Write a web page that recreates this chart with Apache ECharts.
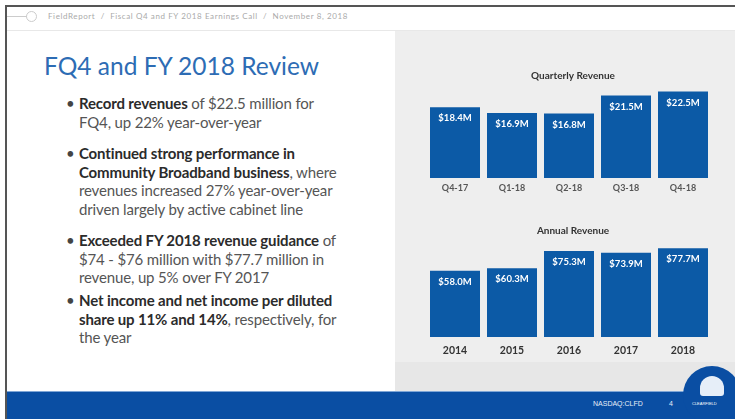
<!DOCTYPE html>
<html>
<head>
<meta charset="utf-8">
<script src="https://cdn.jsdelivr.net/npm/echarts@6/dist/echarts.min.js"></script>
<style>
    body{ margin: 0; width: 735px; height: 419px; overflow: hidden; background: #fff; font-family: Lato, "Open Sans", sans-serif; position: relative;}
    .frame-top{ position: absolute; left: 5px; top: 5px; width: 730px; height: 2px; background: #555;}
    .frame-left{ position: absolute; left: 5px; top: 5px; width: 2px; height: 414px; background: #555;}
    .hdr-line{ position: absolute; left: 7px; top: 16px; width: 20px; height: 1px; background: #ccc;}
    .hdr-dot{ position: absolute; left: 26px; top: 11px; width: 9px; height: 9px; border: 1px solid #ccc; border-radius: 50%;}
    .hdr-text{ position: absolute; left: 48px; top: 11px; font-size: 8px; letter-spacing: 0.6px; color: #aaa; white-space: nowrap;}
    .sep{ position: absolute; left: 7px; top: 30px; width: 728px; height: 1px; background: #e8e8e8;}
    .panel{ position: absolute; left: 395px; top: 31px; width: 340px; height: 331px; background: #eeeeee;}
    .panel2{ position: absolute; left: 395px; top: 362px; width: 340px; height: 29px; background: #e7e7e7;}
    .footer{ position: absolute; left: 7px; top: 391px; width: 728px; height: 28px; background: #0a4ea3; border-top: 1px solid #7fa6d6;}
    .nasdaq{ position: absolute; left: 593px; top: 400px; font-size: 7px; color: #e8eef8; font-family: "Liberation Sans", sans-serif;}
    .page{ position: absolute; left: 669px; top: 400px; font-size: 7px; color: #e8eef8; font-family: "Liberation Sans", sans-serif;}
    .logo{ position: absolute; left: 683px; top: 366px; width: 58px; height: 58px; border-radius: 50%; background: #0a4ea3;}
    .logo .shell{ position: absolute; left: 17px; top: 10px; width: 24px; height: 20px; border-radius: 12px 12px 3px 3px; background: #e6eef8;}
    .logo .name{ position: absolute; left: 9px; top: 35px; font-size: 4px; color: #fff; font-family: "Liberation Sans", sans-serif;}
    h1{ position: absolute; left: 44px; top: 51px; margin: 0; font-size: 24.5px; font-weight: 400; color: #2d6cb4; white-space: nowrap;}
    .b{ position: absolute; left: 79px; font-size: 15px; letter-spacing: -0.15px; line-height: 18.5px; color: #555; white-space: nowrap;}
    .b:before{ content: "\2022"; position: absolute; left: -13px; color: #444;}
    .b strong{ color: #2b2b2b; font-weight: 700;}
    #chart{ position: absolute; left: 0; top: 0; width: 735px; height: 419px;}
</style>
</head>
<body>
<div class="frame-top"></div>
<div class="frame-left"></div>
<div class="hdr-line"></div>
<div class="hdr-dot"></div>
<div class="hdr-text">FieldReport&nbsp; / &nbsp;Fiscal Q4 and FY 2018 Earnings Call&nbsp; / &nbsp;November 8, 2018</div>
<div class="sep"></div>
<div class="panel"></div>
<div class="panel2"></div>
<div class="footer"></div>
<div class="nasdaq">NASDAQ:CLFD</div>
<div class="page">4</div>
<div class="logo"><div class="shell"></div><div class="name">CLEARFIELD</div></div>

<h1>FQ4 and FY 2018 Review</h1>
<div class="b" style="top: 94px;"><strong>Record revenues</strong> of $22.5 million for<br>FQ4, up 22% year-over-year</div>
<div class="b" style="top: 144px;"><strong>Continued strong performance in<br>Community Broadband business</strong>, where<br>revenues increased 27% year-over-year<br>driven largely by active cabinet line</div>
<div class="b" style="top: 231px;"><strong>Exceeded FY 2018 revenue guidance</strong> of<br>$74 - $76 million with $77.7 million in<br>revenue, up 5% over FY 2017</div>
<div class="b" style="top: 291px;"><strong>Net income and net income per diluted<br>share up 11% and 14%</strong>, respectively, for<br>the year</div>

<div id="chart"></div>

<script>
    // quarterly and annual revenue, $M
    const quarters = ['Q4-17', 'Q1-18', 'Q2-18', 'Q3-18', 'Q4-18'];
    const quarterlyRevenue = [18.4, 16.9, 16.8, 21.5, 22.5];
    const years = ['2014', '2015', '2016', '2017', '2018'];
    const annualRevenue = [58.0, 60.3, 75.3, 73.9, 77.7];

    const barColor = '#0c5aa6';

    let myChart = echarts.init(document.getElementById('chart'));

    function barSeries(idx, data, fontSize){
        return {
            type: 'bar',
            xAxisIndex: idx,
            yAxisIndex: idx,
            barWidth: 50,
            data: data,
            itemStyle: { color: barColor },
            label: {
                show: true,
                position: 'insideTop',
                distance: 6,
                color: '#fff',
                fontSize: fontSize,
                fontWeight: 'bold',
                fontFamily: 'Lato',
                formatter: p => '$' + p.value.toFixed(1) + 'M'
            },
            silent: true
        };
    }

    myChart.setOption({
        animation: false,
        title: [
            { text: 'Quarterly Revenue', left: 568, top: 66, textAlign: 'center',
              textStyle: { fontSize: 10, fontWeight: 'bold', color: '#333', fontFamily: 'Lato' } },
            { text: 'Annual Revenue', left: 568, top: 221, textAlign: 'center',
              textStyle: { fontSize: 10, fontWeight: 'bold', color: '#333', fontFamily: 'Lato' } }
        ],
        grid: [
            { left: 426.5, width: 285, top: 82, height: 96 },
            { left: 426.5, width: 285, top: 240, height: 97 }
        ],
        xAxis: [
            { gridIndex: 0, type: 'category', data: quarters,
              axisLine: { show: false }, axisTick: { show: false },
              axisLabel: { margin: 6, fontSize: 9, fontWeight: 'bold', color: '#555', fontFamily: 'Lato' } },
            { gridIndex: 1, type: 'category', data: years,
              axisLine: { show: false }, axisTick: { show: false },
              axisLabel: { margin: 8, fontSize: 10.5, fontWeight: 'bold', color: '#333', fontFamily: 'Lato' } }
        ],
        yAxis: [
            { gridIndex: 0, type: 'value', min: 0, max: 25, show: false },
            { gridIndex: 1, type: 'value', min: 0, max: 85, show: false }
        ],
        series: [
            barSeries(0, quarterlyRevenue, 9.5),
            barSeries(1, annualRevenue, 9.5)
        ]
    });
</script>
</body>
</html>
